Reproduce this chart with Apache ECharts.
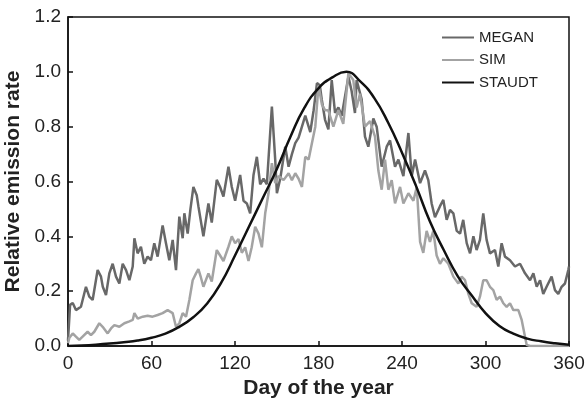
<!DOCTYPE html>
<html>
<head>
<meta charset="utf-8">
<script src="https://cdn.jsdelivr.net/npm/echarts@6/dist/echarts.min.js"></script>
<style>html,body{margin:0;padding:0;background:#fff}#c{width:587px;height:402px}</style>
</head>
<body>
<div id="c"></div>
<script>
var xTicks = [0, 60, 120, 180, 240, 300, 360];
var yTicks = [0.0, 0.2, 0.4, 0.6, 0.8, 1.0, 1.2];
var seriesNames = ['MEGAN', 'SIM', 'STAUDT'];

var meganDay = [0,1.5,3.4,5.7,9.3,12.9,15.3,17.7,21.3,23.7,25,27.3,29.7,32.1,34.5,36.9,39.3,41.7,44.1,46.5,47.7,50,52.4,54.8,57.2,59.6,62,64.4,68,70.4,72.8,75.2,77.6,80,82.4,83.6,86,88,90.1,92.5,93.7,97.3,100.9,103.3,106.9,109.3,111.7,115.3,117.7,120.1,123.7,126.1,128.5,130.9,133.3,135.7,138.1,140.5,142.9,146.5,148.9,150.1,152.5,156.1,158.5,160.9,163.3,165.7,168.1,170.5,174.1,176.5,178.9,181,182.3,184.7,187.1,189.5,191.9,194.3,196.7,201.5,203.8,206.2,207.4,211,213.4,215.8,219.4,221.8,225.4,229,231.4,235,237.4,241,244.6,247,249.4,253,256.5,258.9,261.3,263.7,267.3,269.7,272.1,274.5,276.9,279.3,281.7,284,286.5,288.9,291.3,293.6,296,298.4,300.8,303.2,306.8,309.2,311.6,314,317.6,321.2,324.8,328.4,332,334.4,336.8,339.2,341.5,343.9,347.5,349.9,352.3,354.7,357.1,359.5,360];
var meganVal = [0.02,0.15,0.157,0.131,0.143,0.216,0.18,0.168,0.277,0.253,0.216,0.186,0.265,0.30,0.253,0.228,0.30,0.277,0.24,0.29,0.393,0.338,0.362,0.30,0.326,0.313,0.375,0.326,0.44,0.375,0.313,0.387,0.277,0.472,0.393,0.484,0.41,0.50,0.58,0.55,0.51,0.40,0.52,0.45,0.606,0.58,0.545,0.654,0.58,0.53,0.624,0.53,0.52,0.484,0.624,0.69,0.59,0.61,0.59,0.873,0.68,0.557,0.61,0.727,0.654,0.70,0.74,0.76,0.80,0.84,0.78,0.86,0.959,0.95,0.90,0.825,0.79,0.97,0.85,0.87,0.84,0.983,0.93,0.85,0.97,0.90,0.764,0.727,0.83,0.80,0.654,0.727,0.75,0.654,0.68,0.62,0.777,0.62,0.68,0.594,0.64,0.605,0.52,0.47,0.51,0.533,0.46,0.496,0.484,0.42,0.41,0.46,0.375,0.338,0.40,0.35,0.387,0.484,0.387,0.338,0.35,0.29,0.375,0.326,0.313,0.29,0.30,0.265,0.24,0.265,0.216,0.24,0.19,0.216,0.253,0.204,0.19,0.216,0.228,0.277,0.29];

var simDay = [0,1,3.4,5.7,8.1,10.5,14.1,16.5,18.9,22.5,24.9,28.5,30.9,33.3,36.9,40.5,44.1,46.5,47.7,50.1,53.7,57.2,60.8,64.4,68,71.6,75.2,77.6,80,82.4,84.8,87.2,89.6,92,93.7,95.5,97.3,100.9,103.3,106.9,109.3,111.7,115.3,117.7,120.1,122.5,124.9,127.3,129.7,132,134.5,136.9,139.3,141.7,144.1,146.5,148.9,151.3,154.9,158.5,160.9,163.3,165.7,168.1,170.5,172.9,175.3,177.7,180,182.5,184.7,187,190.7,194.3,197.8,201.5,205,207.4,209.8,213.4,217,220.6,223,225.4,227.8,230.2,232.6,235,238.6,241,244.6,248.2,250.6,253,255.3,257.7,260.1,262.5,264.9,267.3,269.7,273.3,276.9,280.5,282.9,285.3,287.7,290.1,293.6,296,298.4,300.8,303.2,305.6,308,310.4,312.8,315.2,317.6,320,323.6,326,328.4,329.6,332,360];
var simVal = [0.01,0.03,0.046,0.034,0.022,0.034,0.052,0.04,0.052,0.083,0.07,0.046,0.064,0.076,0.07,0.083,0.09,0.095,0.12,0.10,0.107,0.11,0.107,0.113,0.12,0.131,0.12,0.07,0.083,0.12,0.107,0.168,0.24,0.265,0.28,0.25,0.216,0.265,0.235,0.35,0.33,0.31,0.362,0.40,0.375,0.39,0.34,0.36,0.31,0.36,0.435,0.41,0.36,0.484,0.557,0.667,0.594,0.62,0.605,0.63,0.605,0.63,0.61,0.58,0.69,0.68,0.74,0.80,0.95,0.88,0.86,0.86,0.80,0.86,0.81,0.995,0.97,0.87,0.92,0.80,0.82,0.764,0.64,0.57,0.68,0.57,0.605,0.52,0.58,0.52,0.557,0.53,0.58,0.38,0.34,0.42,0.38,0.42,0.33,0.30,0.32,0.30,0.253,0.228,0.253,0.24,0.19,0.156,0.143,0.18,0.24,0.24,0.216,0.204,0.168,0.18,0.156,0.143,0.156,0.131,0.131,0.095,0.034,0.004,0,0];

var staudtDay = [0,10,20,30,40,50,60,70,80,90,100,110,120,130,140,150,160,170,180,190,200,210,220,230,240,250,260,270,280,290,300,310,320,330,340,350,360];
var staudtVal = [0.0,0.002,0.005,0.009,0.014,0.02,0.03,0.045,0.07,0.105,0.155,0.23,0.33,0.435,0.54,0.645,0.765,0.87,0.94,0.98,1.0,0.965,0.905,0.815,0.705,0.585,0.455,0.35,0.255,0.185,0.12,0.073,0.045,0.027,0.017,0.01,0.005];

function zip(a, b) { return a.map(function (d, i) { return [d, b[i]]; }); }

var chart = echarts.init(document.getElementById('c'), null, {renderer: 'canvas'});
var font = 'Liberation Sans, Arial, Helvetica, sans-serif';
chart.setOption({
  animation: false,
  backgroundColor: '#fff',
  grid: {left: 68, top: 17, right: 18, bottom: 56, containLabel: false, outerBoundsMode: 'none',
         show: true, borderColor: '#111', borderWidth: 1.5, backgroundColor: 'transparent'},
  legend: {
    orient: 'vertical', left: 441, top: 30, padding: 0, itemWidth: 32, itemHeight: 14, itemGap: 7.5,
    itemStyle: {opacity: 0},
    textStyle: {fontFamily: font, fontSize: 15, color: '#222'},
    data: seriesNames
  },
  xAxis: {
    type: 'value', min: xTicks[0], max: xTicks[xTicks.length - 1], interval: 60,
    name: 'Day of the year', nameLocation: 'middle', nameGap: 29,
    nameTextStyle: {fontFamily: font, fontSize: 21, fontWeight: 'bold', color: '#222'},
    axisLine: {lineStyle: {color: '#111', width: 1.5}},
    axisTick: {inside: true, length: 5, lineStyle: {color: '#111', width: 1.5}},
    axisLabel: {fontFamily: font, fontSize: 19, color: '#222', margin: 8},
    splitLine: {show: false}
  },
  yAxis: {
    type: 'value', min: yTicks[0], max: yTicks[yTicks.length - 1], interval: 0.2,
    name: 'Relative emission rate', nameLocation: 'middle', nameGap: 39,
    nameTextStyle: {fontFamily: font, fontSize: 21, fontWeight: 'bold', color: '#222'},
    axisLine: {lineStyle: {color: '#111', width: 1.5}},
    axisTick: {inside: true, length: 5, lineStyle: {color: '#111', width: 1.5}},
    axisLabel: {fontFamily: font, fontSize: 19, color: '#222', margin: 7,
      formatter: function (v) { return v.toFixed(1); }},
    splitLine: {show: false}
  },
  series: [
    {name: seriesNames[0], type: 'line', data: zip(meganDay, meganVal), symbol: 'none',
     lineStyle: {color: '#686868', width: 2.5}, itemStyle: {color: '#686868'}},
    {name: seriesNames[1], type: 'line', data: zip(simDay, simVal), symbol: 'none',
     lineStyle: {color: '#a3a3a3', width: 2.5}, itemStyle: {color: '#a3a3a3'}},
    {name: seriesNames[2], type: 'line', data: zip(staudtDay, staudtVal), symbol: 'none', smooth: true,
     lineStyle: {color: '#111', width: 2.5}, itemStyle: {color: '#111'}}
  ]
});
</script>
</body>
</html>
